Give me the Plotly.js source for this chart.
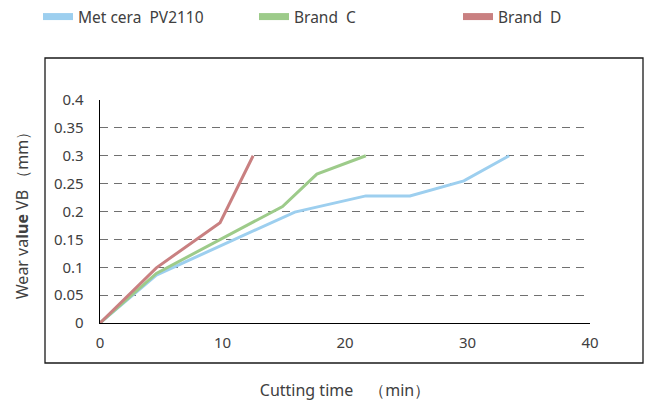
<!DOCTYPE html>
<html>
<head>
<meta charset="utf-8">
<script src="https://cdn.plot.ly/plotly-3.0.1.min.js"></script>
<style>html,body{margin:0;padding:0;background:#fff;}#chart{width:650px;height:403px;}</style>
</head>
<body>
<div id="chart"></div>
<script>
// Data
const seriesNames = ["Met cera  PV2110", "Brand  C", "Brand  D"];
const metceraX = [0, 4.6, 15.9, 21.7, 25.3, 29.7, 33.4];
const metceraY = [0, 0.086, 0.199, 0.228, 0.228, 0.255, 0.30];
const brandCX = [0, 4.6, 14.9, 17.7, 21.7];
const brandCY = [0, 0.089, 0.209, 0.267, 0.30];
const brandDX = [0, 4.6, 9.8, 12.5];
const brandDY = [0, 0.099, 0.18, 0.30];
const yTickVals = [0, 0.05, 0.1, 0.15, 0.2, 0.25, 0.3, 0.35, 0.4];
const yTickText = ["0", "0.05", "0.1", "0.15", "0.2", "0.25", "0.3", "0.35", "0.4"];
const xTickVals = [0, 10, 20, 30, 40];
const xTickText = ["0", "10", "20", "30", "40"];

const colors = ["#9dcfef", "#9dcb8a", "#c98081"];
const FONT = "Noto Sans, DejaVu Sans, sans-serif";
const TXT = "#404040";

const xs = [metceraX, brandCX, brandDX];
const ys = [metceraY, brandCY, brandDY];
const legendIds = ["legend", "legend2", "legend3"];

const traces = [];
for (let i = 0; i < 3; i++) {
  traces.push({
    x: xs[i], y: ys[i], type: "scatter", mode: "lines",
    name: seriesNames[i], showlegend: false,
    line: {color: colors[i], width: 3}, hoverinfo: "skip"
  });
}
// legend-only entries with thicker swatch
for (let i = 0; i < 3; i++) {
  traces.push({
    x: [null], y: [null], type: "scatter", mode: "lines",
    name: seriesNames[i], showlegend: true, legend: legendIds[i],
    line: {color: colors[i], width: 7}
  });
}

const legendBase = {
  orientation: "h", xref: "container", yref: "container",
  yanchor: "middle", y: 1 - 17/403, xanchor: "left",
  font: {family: FONT, size: 15.5, color: TXT},
  bgcolor: "rgba(0,0,0,0)", itemwidth: 30
};

const layout = {
  width: 650, height: 403,
  margin: {l: 100, r: 60, t: 100, b: 80},
  paper_bgcolor: "#fff", plot_bgcolor: "#fff",
  font: {family: FONT, color: TXT},
  showlegend: true,
  legend: Object.assign({}, legendBase, {x: 38/650}),
  legend2: Object.assign({}, legendBase, {x: 254/650}),
  legend3: Object.assign({}, legendBase, {x: 458/650}),
  xaxis: {
    range: [0, 40], tickvals: xTickVals, ticktext: xTickText,
    showgrid: false, zeroline: false,
    showline: true, linecolor: "#000", linewidth: 1.3,
    ticks: "", ticklabelstandoff: 6,
    tickfont: {family: FONT, size: 15, color: TXT},
    title: {text: "Cutting time　（min）", font: {family: FONT, size: 16, color: TXT}, standoff: 33}
  },
  yaxis: {
    range: [0, 0.4], tickvals: yTickVals, ticktext: yTickText,
    showgrid: true, gridcolor: "#707070", gridwidth: 1, griddash: "8px,6px",
    zeroline: false, showline: true, linecolor: "#000", linewidth: 1.3,
    ticks: "", ticklabelstandoff: 12,
    tickfont: {family: FONT, size: 15, color: TXT},
    title: {text: "Wear va<b>lue</b> VB （mm）", font: {family: FONT, size: 16, color: TXT}, standoff: 21}
  },
  shapes: [{
    type: "rect", xref: "paper", yref: "paper",
    x0: (45-100)/490, x1: (643-100)/490,
    y0: (323-363)/223, y1: (323-58)/223,
    line: {color: "#1a1a1a", width: 1.3}, fillcolor: "rgba(0,0,0,0)", layer: "below"
  }]
};

Plotly.newPlot("chart", traces, layout, {displayModeBar: false, staticPlot: true});
</script>
</body>
</html>
